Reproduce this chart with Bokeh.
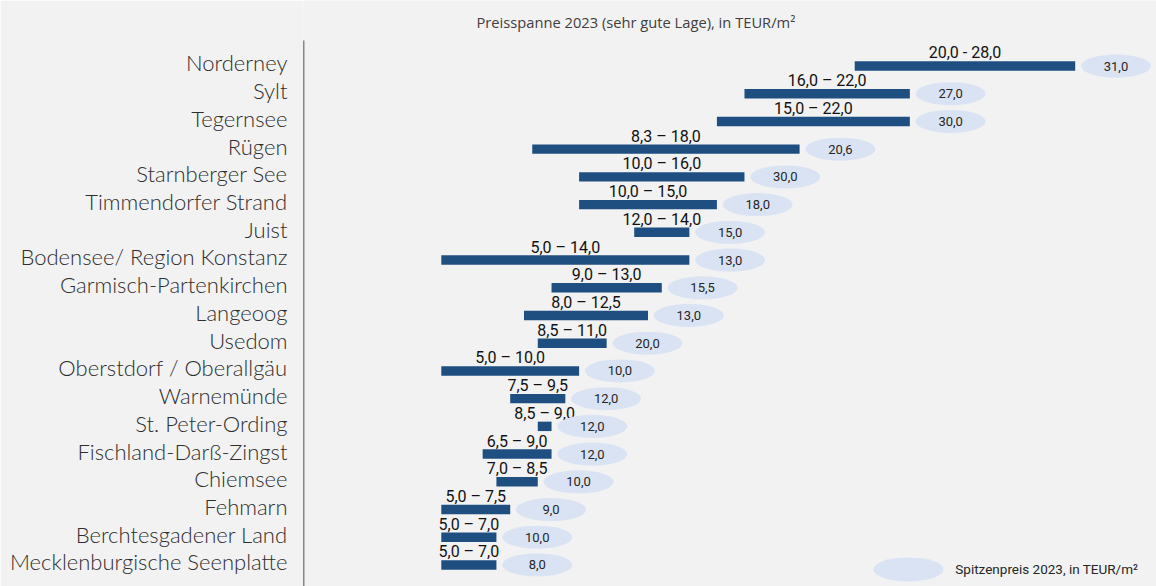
from bokeh.plotting import figure
from bokeh.models import Range1d, FixedTicker, ColumnDataSource
from bokeh.core.properties import value
from bokeh.embed import file_html
from bokeh.resources import INLINE

# ---- data ----
regions = ["Norderney", "Sylt", "Tegernsee", "Rügen", "Starnberger See",
           "Timmendorfer Strand", "Juist", "Bodensee/ Region Konstanz",
           "Garmisch-Partenkirchen", "Langeoog", "Usedom",
           "Oberstdorf / Oberallgäu", "Warnemünde", "St. Peter-Ording",
           "Fischland-Darß-Zingst", "Chiemsee", "Fehmarn",
           "Berchtesgadener Land", "Mecklenburgische Seenplatte"]
low = [20.0, 16.0, 15.0, 8.3, 10.0, 10.0, 12.0, 5.0, 9.0, 8.0, 8.5, 5.0,
       7.5, 8.5, 6.5, 7.0, 5.0, 5.0, 5.0]
high = [28.0, 22.0, 22.0, 18.0, 16.0, 15.0, 14.0, 14.0, 13.0, 12.5, 11.0,
        10.0, 9.5, 9.0, 9.0, 8.5, 7.5, 7.0, 7.0]
peak = [31.0, 27.0, 30.0, 20.6, 30.0, 18.0, 15.0, 13.0, 15.5, 13.0, 20.0,
        10.0, 12.0, 12.0, 12.0, 10.0, 9.0, 10.0, 8.0]
range_labels = ["20,0 - 28,0", "16,0 – 22,0", "15,0 – 22,0", "8,3 – 18,0",
                "10,0 – 16,0", "10,0 – 15,0", "12,0 – 14,0", "5,0 – 14,0",
                "9,0 – 13,0", "8,0 – 12,5", "8,5 – 11,0", "5,0 – 10,0",
                "7,5 – 9,5", "8,5 – 9,0", "6,5 – 9,0", "7,0 – 8,5",
                "5,0 – 7,5", "5,0 – 7,0", "5,0 – 7,0"]
title_text = "Preisspanne 2023 (sehr gute Lage), in TEUR/m²"
legend_text = "Spitzenpreis 2023, in TEUR/m²"

# ---- styling ----
BG = "#F2F2F2"
BAR = "#1F4E80"
OVAL = "#DAE3F3"
LBL = value("Roboto")

n = len(regions)
ys = list(range(n))
oval_gap = 1.48    # oval centre to the right of the bar end (data units)
label_lift = 0.47  # range label centre above bar centre (data units)
name_lift = 0.11   # category name centre slightly above bar centre

src = ColumnDataSource(dict(
    y=ys,
    ly=[i - label_lift for i in ys],
    low=low,
    high=high,
    mid=[(a + b) / 2 for a, b in zip(low, high)],
    ox=[b + oval_gap for b in high],
    peak_lbl=[f"{v:.1f}".replace(".", ",") for v in peak],
    rng=range_labels,
))

p = figure(width=1156, height=586, output_backend="svg", toolbar_location=None,
           x_range=Range1d(0, 30.95), y_range=Range1d(18.777, -2.363),
           min_border_left=303, min_border_right=0, min_border_top=0,
           min_border_bottom=0, background_fill_color=BG,
           border_fill_color=BG, outline_line_color=None)
p.grid.visible = False
p.xaxis.visible = False

tick_pos = [i - name_lift for i in ys]
ax = p.yaxis[0]
ax.ticker = FixedTicker(ticks=tick_pos)
ax.major_label_overrides = {t: r for t, r in zip(tick_pos, regions)}
ax.axis_line_color = None
ax.major_tick_line_color = None
ax.minor_tick_line_color = None
ax.major_label_standoff = 10
ax.major_label_text_font = "Lato Light"
ax.major_label_text_font_size = "22px"
ax.major_label_text_color = "#2e2e2e"

# vertical axis line
p.segment(x0=[0], y0=[-0.92], x1=[0], y1=[18.777], line_color="#1a1a1a",
          line_width=1.5)

# bars
p.hbar(y="y", left="low", right="high", height=0.34, source=src,
       fill_color=BAR, line_color=None)

# range labels above bars
p.text(x="mid", y="ly", text="rng", source=src, text_align="center",
       text_baseline="middle", text_font=LBL,
       text_font_size="16px", text_color="#111111")

# peak ovals
p.ellipse(x="ox", y="y", width=70, height=23, width_units="screen",
          height_units="screen", source=src, fill_color=OVAL, line_color=None)
p.text(x="ox", y="y", text="peak_lbl", source=src, text_align="center",
       text_baseline="middle", text_font=LBL, text_font_size="13px",
       text_color="#262626")

# title
p.text(x=[12.06], y=[-1.57], text=[title_text], text_align="center",
       text_baseline="middle", text_font=value("Open Sans"),
       text_font_size="14.7px", text_color="#404040")

# legend
p.ellipse(x=[21.95], y=[18.16], width=70, height=24, width_units="screen",
          height_units="screen", fill_color=OVAL, line_color=None)
p.text(x=[23.65], y=[18.16], text=[legend_text], text_align="left",
       text_baseline="middle", text_font=LBL, text_font_size="13.5px",
       text_color="#262626")

html = file_html(p, INLINE)
html = html.replace("<body>", '<body style="background:#F2F2F2">', 1)
open("out.html", "w").write(html)
